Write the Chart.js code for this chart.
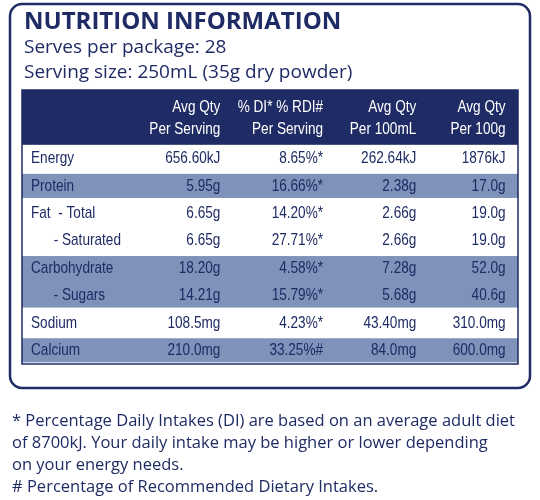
<!DOCTYPE html>
<html>
<head>
<meta charset="utf-8">
<script src="https://cdn.jsdelivr.net/npm/chart.js@4"></script>
<style>body{margin:0;background:#fff}</style>
</head>
<body>
<canvas id="c" width="540" height="500"></canvas>
<script>
// table data
const headers = [["Avg Qty", "Per Serving"], ["% DI* % RDI#", "Per Serving"], ["Avg Qty", "Per 100mL"], ["Avg Qty", "Per 100g"]];
const nutrients = ["Energy", "Protein", "Fat  - Total", "      - Saturated", "Carbohydrate", "      - Sugars", "Sodium", "Calcium"];
const perServing = ["656.60kJ", "5.95g", "6.65g", "6.65g", "18.20g", "14.21g", "108.5mg", "210.0mg"];
const dailyIntake = ["8.65%*", "16.66%*", "14.20%*", "27.71%*", "4.58%*", "15.79%*", "4.23%*", "33.25%#"];
const per100mL = ["262.64kJ", "2.38g", "2.66g", "2.66g", "7.28g", "5.68g", "43.40mg", "84.0mg"];
const per100g = ["1876kJ", "17.0g", "19.0g", "19.0g", "52.0g", "40.6g", "310.0mg", "600.0mg"];
// groups: [first line, number of lines, shaded]
const groups = [[0, 1, false], [1, 1, true], [2, 2, false], [4, 2, true], [6, 1, false], [7, 1, true]];
const footnotes = ["* Percentage Daily Intakes (DI) are based on an average adult diet", "of 8700kJ. Your daily intake may be higher or lower depending", "on your energy needs.", "# Percentage of Recommended Dietary Intakes."];

const navy = '#1f2b64', shade = '#7f92b9';
const colRight = [0.4, 0.607, 0.795, 0.975];
const tfont = '17px "Liberation Sans", sans-serif';

// condensed text: squeeze horizontally around the anchor
function narrowText(ctx, t, x, y, k) {
  ctx.save();
  ctx.translate(x, y);
  ctx.scale(k, 1);
  ctx.fillText(t, 0, 0);
  ctx.restore();
}

const tablePlugin = {
  id: 'table',
  beforeDraw(chart) {
    const ctx = chart.ctx, xs = chart.scales.x, ys = chart.scales.y;
    const L = xs.getPixelForValue(0), R = xs.getPixelForValue(1);
    const k = 0.8;
    ctx.save();
    // outer frame
    ctx.strokeStyle = navy; ctx.lineWidth = 2.5;
    ctx.beginPath(); ctx.roundRect(10, 4, 520, 384, 12); ctx.stroke();
    ctx.fillStyle = navy; ctx.textBaseline = 'middle'; ctx.textAlign = 'left';
    ctx.font = 'bold 24px "Open Sans", sans-serif';
    ctx.fillText('NUTRITION INFORMATION', 24, 22);
    ctx.font = '19px "Open Sans", sans-serif';
    ctx.fillText('Serves per package: 28', 24, 48);
    ctx.fillText('Serving size: 250mL (35g dry powder)', 24, 73);
    // header band
    const h0 = ys.getPixelForValue(-2), h1 = ys.getPixelForValue(0);
    ctx.fillStyle = navy; ctx.fillRect(L, h0, R - L, h1 - h0);
    ctx.font = tfont; ctx.fillStyle = '#fff'; ctx.textAlign = 'right';
    headers.forEach((h, i) => h.forEach((t, j) => {
      narrowText(ctx, t, xs.getPixelForValue(colRight[i]), ys.getPixelForValue(-1.35 + j * 0.8), k);
    }));
    // rows
    groups.forEach(([s, n, sh]) => {
      if (sh) {
        ctx.fillStyle = shade;
        const a = ys.getPixelForValue(s + 0.06), b = ys.getPixelForValue(s + n - 0.06);
        ctx.fillRect(L, a, R - L, b - a);
      }
    });
    ctx.strokeStyle = navy; ctx.lineWidth = 1.5;
    ctx.strokeRect(L, h0, R - L, ys.getPixelForValue(nutrients.length) - h0);
    ctx.fillStyle = navy;
    nutrients.forEach((name, i) => {
      const y = ys.getPixelForValue(i + 0.5);
      ctx.textAlign = 'left'; narrowText(ctx, name, L + 9, y, k);
      ctx.textAlign = 'right';
      [perServing, dailyIntake, per100mL, per100g].forEach((col, c) => {
        narrowText(ctx, col[i], xs.getPixelForValue(colRight[c]), y, k);
      });
    });
    // footnotes
    ctx.textAlign = 'left'; ctx.font = '16.5px "Open Sans", sans-serif';
    footnotes.forEach((t, i) => ctx.fillText(t, 12, 421 + i * 22));
    ctx.restore();
  }
};

new Chart(document.getElementById('c'), {
  type: 'scatter',
  data: { datasets: [{ data: [] }] },
  options: {
    responsive: false,
    animation: false,
    layout: { padding: { left: 22, right: 22, top: 90, bottom: 136 } },
    plugins: { legend: { display: false }, tooltip: { enabled: false } },
    scales: {
      x: { display: false, min: 0, max: 1 },
      y: { display: false, min: -2, max: nutrients.length, reverse: true }
    }
  },
  plugins: [tablePlugin]
});
</script>
</body>
</html>
